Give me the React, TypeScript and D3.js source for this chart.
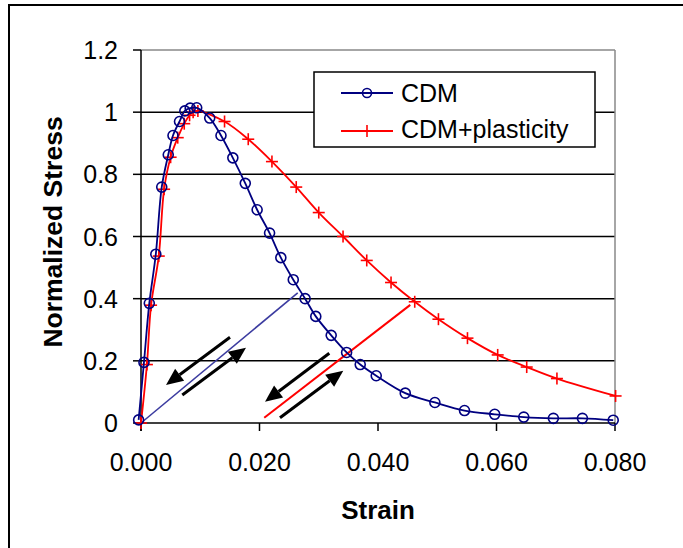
import * as d3 from "d3";

// CDM (damage only) curve
const cdmStrain = [-0.0004, 0.0005, 0.0014, 0.0025, 0.0035, 0.0046, 0.0054, 0.0065, 0.0074, 0.0083, 0.0094, 0.0116, 0.0135, 0.0155, 0.0176, 0.0196, 0.0217, 0.0236, 0.0257, 0.0277, 0.0295, 0.0321, 0.0347, 0.037, 0.0397, 0.0446, 0.0496, 0.0546, 0.0597, 0.0646, 0.0696, 0.0745, 0.0797];
const cdmStress = [0.01, 0.195, 0.385, 0.543, 0.759, 0.863, 0.925, 0.97, 1.004, 1.013, 1.014, 0.981, 0.925, 0.853, 0.771, 0.686, 0.611, 0.532, 0.461, 0.4, 0.343, 0.282, 0.227, 0.188, 0.152, 0.096, 0.066, 0.04, 0.028, 0.019, 0.015, 0.015, 0.009];

// CDM + plasticity curve
const plasStrain = [0, 0.001, 0.0017, 0.003, 0.0039, 0.005, 0.0062, 0.0073, 0.0082, 0.0088, 0.0096, 0.0141, 0.0181, 0.0221, 0.0262, 0.03, 0.0341, 0.0381, 0.0422, 0.0462, 0.0502, 0.0551, 0.0602, 0.0651, 0.0702, 0.0801];
const plasStress = [0, 0.188, 0.379, 0.537, 0.752, 0.855, 0.918, 0.963, 0.99, 1.0, 1.004, 0.97, 0.913, 0.841, 0.759, 0.677, 0.6, 0.523, 0.452, 0.39, 0.334, 0.273, 0.219, 0.18, 0.143, 0.087];

// unloading lines [strain, stress]
const unloadCdm = [[0, 0], [0.02645, 0.419]];
const unloadPlas = [[0.0208, 0.017], [0.04545, 0.38]];

// arrows: [fromStrain, fromStress, toStrain, toStress]
const arrows = [
  [0.01502, 0.2757, 0.00422, 0.1223],
  [0.00697, 0.0901, 0.01772, 0.2423],
  [0.03178, 0.2243, 0.02093, 0.0685],
  [0.02346, 0.017, 0.03414, 0.1683],
];

const xTicks = [0, 0.02, 0.04, 0.06, 0.08];
const yTicks = [0, 0.2, 0.4, 0.6, 0.8, 1, 1.2];
const legendLabels = ["CDM", "CDM+plasticity"];

const W = 683;
const H = 548;
const FONT = "'Liberation Sans', Arial, sans-serif";

export default function App() {
  const x = d3.scaleLinear().domain([0, 0.08]).range([141, 615]);
  const y = d3.scaleLinear().domain([0, 1.2]).range([423, 50]);

  const cdm = cdmStrain.map((s, i) => [s, cdmStress[i]]);
  const plas = plasStrain.map((s, i) => [s, plasStress[i]]);

  const line = d3
    .line<number[]>()
    .x((d) => x(d[0]))
    .y((d) => y(d[1]))
    .curve(d3.curveCatmullRom.alpha(0.5));
  const straight = d3
    .line<number[]>()
    .x((d) => x(d[0]))
    .y((d) => y(d[1]));

  const arrowShapes = arrows.map((a, i) => {
    const x1 = x(a[0]), y1 = y(a[1]), x2 = x(a[2]), y2 = y(a[3]);
    const ang = Math.atan2(y2 - y1, x2 - x1);
    const len = 17, hw = 7.5;
    const bx = x2 - len * Math.cos(ang), by = y2 - len * Math.sin(ang);
    const px = -Math.sin(ang) * hw, py = Math.cos(ang) * hw;
    return (
      <g key={i}>
        <line x1={x1} y1={y1} x2={bx} y2={by} stroke="#000" strokeWidth={3} />
        <path d={`M${x2},${y2}L${bx + px},${by + py}L${bx - px},${by - py}Z`} fill="#000" />
      </g>
    );
  });

  return (
    <svg width={W} height={H} style={{ position: "absolute", left: 0, top: 0, background: "#fff" }} fontFamily={FONT}>
      <rect x={9} y={5} width={720} height={620} fill="#fff" stroke="#000" strokeWidth={2} />

      {/* grid */}
      {yTicks.slice(1, -1).map((t) => (
        <line key={t} x1={x(0)} x2={x(0.08)} y1={y(t)} y2={y(t)} stroke="#000" strokeWidth={1.5} />
      ))}
      <line x1={x(0)} x2={x(0.08)} y1={y(1.2)} y2={y(1.2)} stroke="#888" strokeWidth={1.5} />
      <line x1={x(0.08)} x2={x(0.08)} y1={y(1.2)} y2={y(0)} stroke="#888" strokeWidth={1.5} />

      {/* axes */}
      <line x1={x(0)} x2={x(0)} y1={y(1.2)} y2={y(0) + 8} stroke="#000" strokeWidth={1.5} />
      <line x1={x(0)} x2={x(0.08)} y1={y(0)} y2={y(0)} stroke="#000" strokeWidth={1.5} />
      {yTicks.map((t) => (
        <g key={t}>
          <line x1={x(0) - 8} x2={x(0)} y1={y(t)} y2={y(t)} stroke="#000" strokeWidth={1.5} />
          <text x={118} y={y(t)} dy="0.36em" textAnchor="end" fontSize={25}>
            {d3.format("")(t)}
          </text>
        </g>
      ))}
      {xTicks.map((t) => (
        <g key={t}>
          <line x1={x(t)} x2={x(t)} y1={y(0)} y2={y(0) + 8} stroke="#000" strokeWidth={1.5} />
          <text x={x(t)} y={471} textAnchor="middle" fontSize={25}>
            {d3.format(".3f")(t)}
          </text>
        </g>
      ))}
      <text x={378} y={519} textAnchor="middle" fontSize={26} fontWeight="bold">
        Strain
      </text>
      <text transform={`translate(62,232) rotate(-90)`} textAnchor="middle" fontSize={26.5} fontWeight="bold">
        Normalized Stress
      </text>

      {/* unloading lines */}
      <path d={straight(unloadCdm) ?? ""} fill="none" stroke="#3c3ca0" strokeWidth={1.6} />
      <path d={straight(unloadPlas) ?? ""} fill="none" stroke="#ff0000" strokeWidth={2} />

      {/* curves */}
      <path d={line(plas) ?? ""} fill="none" stroke="#ff0000" strokeWidth={1.8} />
      {plas.map((d, i) => (
        <g key={i} stroke="#ff0000" strokeWidth={1.6}>
          <line x1={x(d[0]) - 6} x2={x(d[0]) + 6} y1={y(d[1])} y2={y(d[1])} />
          <line x1={x(d[0])} x2={x(d[0])} y1={y(d[1]) - 6} y2={y(d[1]) + 6} />
        </g>
      ))}
      <path d={line(cdm) ?? ""} fill="none" stroke="#000080" strokeWidth={1.8} />
      {cdm.map((d, i) => (
        <circle key={i} cx={x(d[0])} cy={y(d[1])} r={5} fill="none" stroke="#000080" strokeWidth={1.6} />
      ))}

      {arrowShapes}

      {/* legend */}
      <rect x={314} y={72} width={281} height={75} fill="#fff" stroke="#000" strokeWidth={1.5} />
      <line x1={341} x2={393} y1={93} y2={93} stroke="#000080" strokeWidth={1.8} />
      <circle cx={367} cy={93} r={4.5} fill="none" stroke="#000080" strokeWidth={1.6} />
      <line x1={341} x2={393} y1={131} y2={131} stroke="#ff0000" strokeWidth={1.8} />
      <line x1={367} x2={367} y1={125} y2={137} stroke="#ff0000" strokeWidth={1.6} />
      {legendLabels.map((l, i) => (
        <text key={l} x={401} y={102 + i * 36} fontSize={25}>
          {l}
        </text>
      ))}
    </svg>
  );
}
